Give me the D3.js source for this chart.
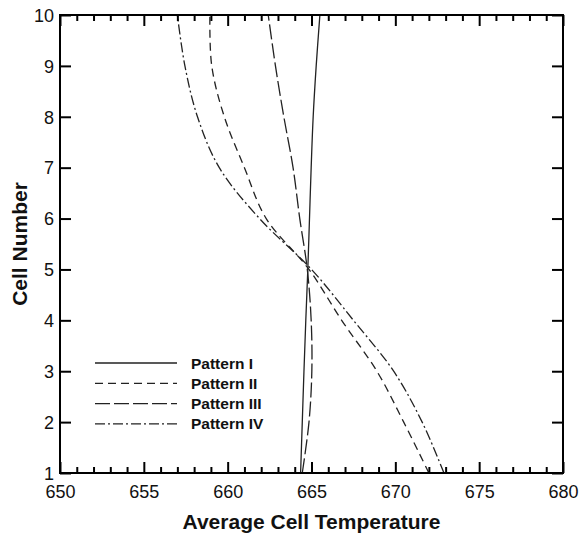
<!DOCTYPE html>
<html>
<head>
<meta charset="utf-8">
<script src="https://cdn.jsdelivr.net/npm/d3@7"></script>
<style>
html,body{margin:0;padding:0;background:#fff;}
svg{display:block;font-family:"Liberation Sans",Arial,sans-serif;}
</style>
</head>
<body>
<svg id="chart" width="580" height="536"></svg>
<script>
const cells = [1,2,3,4,5,6,7,8,9,10];
const patternI   = [664.35,664.45,664.55,664.66,664.78,664.88,664.98,665.1,665.28,665.5];
const patternII  = [672.0,670.5,668.9,666.8,664.85,662.3,661.0,659.8,659.05,658.94];
const patternIII = [664.45,664.85,665.02,664.98,664.75,664.3,663.9,663.35,662.85,662.42];
const patternIV  = [672.9,671.6,669.9,667.5,665.0,661.9,659.5,658.2,657.45,657.0];
const seriesNames = ["Pattern I","Pattern II","Pattern III","Pattern IV"];
const xTicks = [650,655,660,665,670,675,680];
const yTicks = [1,2,3,4,5,6,7,8,9,10];

const dashes = [null,"8,5","15,4","10,3,2,3"];
const series = [patternI,patternII,patternIII,patternIV];

const svg = d3.select("#chart");
const L=60,T=15,R=563,B=473;
const x = d3.scaleLinear().domain([650,680]).range([L,R]);
const y = d3.scaleLinear().domain([1,10]).range([B,T]);

// data lines
const line = d3.line().x(d=>x(d[0])).y(d=>y(d[1])).curve(d3.curveCatmullRom.alpha(0.5));
series.forEach((s,i)=>{
  svg.append("path")
    .datum(s.map((v,j)=>[v,cells[j]]))
    .attr("d",line)
    .attr("fill","none")
    .attr("stroke","#222")
    .attr("stroke-width",1.3)
    .attr("stroke-dasharray",dashes[i]);
});

// axes
const minor = d3.range(650,681,1);
const major = 11, minorLen = 6;
function addAxis(axis, tr){
  const g = svg.append("g").attr("transform",tr).call(axis);
  g.select(".domain").remove();
  g.selectAll("line").attr("stroke","#000").attr("stroke-width",2);
  return g;
}
addAxis(d3.axisTop(x).tickValues(minor.filter(v=>v%5)).tickSize(minorLen).tickFormat(""),`translate(0,${B})`);
const gb = addAxis(d3.axisTop(x).tickValues(xTicks).tickSize(major).tickFormat(""),`translate(0,${B})`);
gb.selectAll(".tick").append("text").text(d=>d)
  .attr("y",25).attr("text-anchor","middle").attr("font-size",18).attr("fill","#111");
addAxis(d3.axisBottom(x).tickValues(minor.filter(v=>v%5)).tickSize(minorLen).tickFormat(""),`translate(0,${T})`);
addAxis(d3.axisBottom(x).tickValues(xTicks).tickSize(major).tickFormat(""),`translate(0,${T})`);
const gl = addAxis(d3.axisRight(y).tickValues(yTicks).tickSize(major).tickFormat(""),`translate(${L},0)`);
gl.selectAll(".tick").append("text").text(d=>d)
  .attr("x",-6).attr("dy","0.35em").attr("text-anchor","end").attr("font-size",18).attr("fill","#111");
addAxis(d3.axisLeft(y).tickValues(yTicks).tickSize(major).tickFormat(""),`translate(${R},0)`);

// frame
svg.append("rect").attr("x",L).attr("y",T).attr("width",R-L).attr("height",B-T)
  .attr("fill","none").attr("stroke","#000").attr("stroke-width",2);

// axis titles
svg.append("text").attr("x",(L+R)/2).attr("y",529).attr("text-anchor","middle")
  .attr("font-size",21).attr("font-weight","bold").attr("fill","#111").text("Average Cell Temperature");
svg.append("text").attr("transform",`translate(27,${(T+B)/2}) rotate(-90)`).attr("text-anchor","middle")
  .attr("font-size",21).attr("font-weight","bold").attr("fill","#111").text("Cell Number");

// legend
const lg = svg.append("g");
seriesNames.forEach((n,i)=>{
  const yy = 363 + i*20.3;
  lg.append("line").attr("x1",95).attr("x2",177).attr("y1",yy).attr("y2",yy)
    .attr("stroke","#222").attr("stroke-width",1.3).attr("stroke-dasharray",dashes[i]);
  lg.append("text").attr("x",191).attr("y",yy).attr("dy","0.36em")
    .attr("font-size",15.5).attr("font-weight","bold").attr("fill","#111").text(n);
});
</script>
</body>
</html>
